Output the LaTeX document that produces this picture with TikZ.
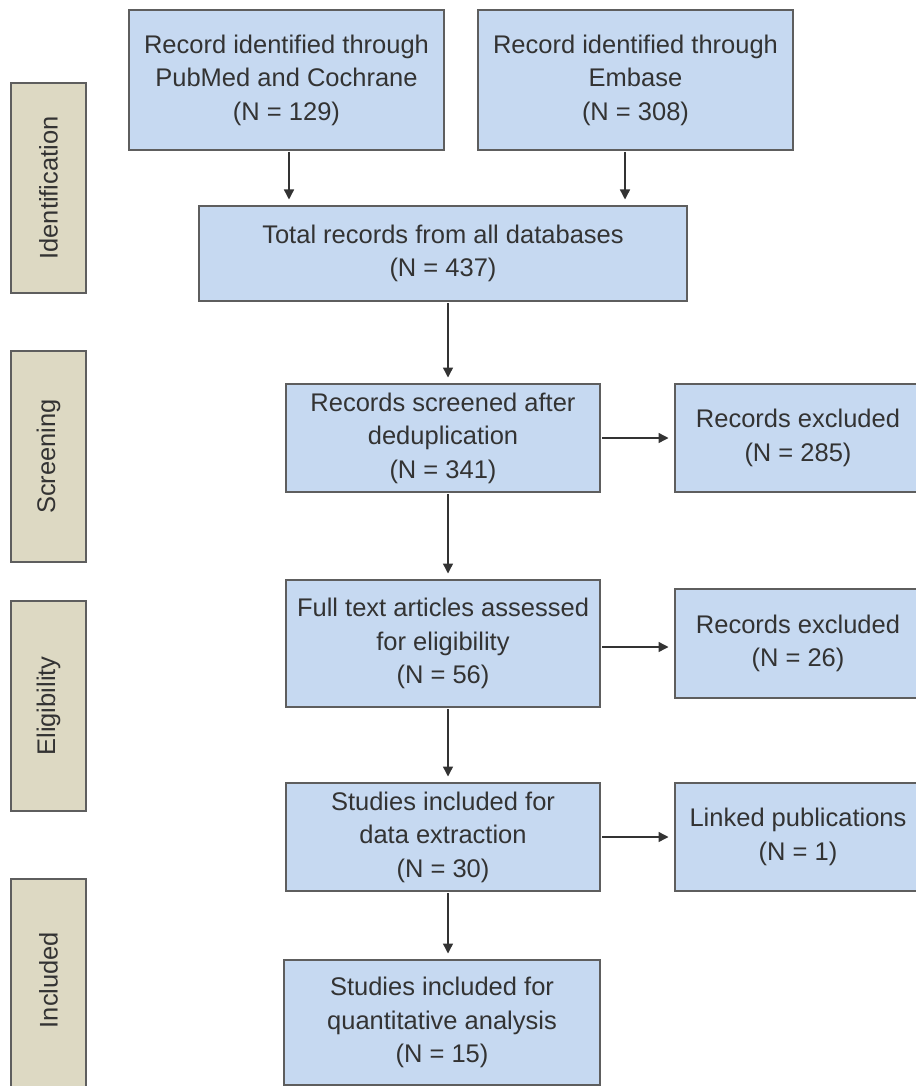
\documentclass[tikz,border=0pt]{standalone}
\usepackage{fontspec}
\setmainfont{Liberation Sans}
\usetikzlibrary{arrows.meta}
\definecolor{boxblue}{HTML}{C6D9F1}
\definecolor{boxline}{HTML}{5E5E5E}
\definecolor{phasetan}{HTML}{DDD9C3}
\definecolor{txt}{HTML}{333333}
\definecolor{arrowc}{HTML}{333333}
\tikzset{
  flowbox/.style={draw=boxline, fill=boxblue, line width=1.3pt, text=txt, align=center,
    inner sep=0pt, outer sep=0pt, anchor=north west, font=\fontsize{25.5}{33.5}\selectfont},
  phasebox/.style={draw=boxline, fill=phasetan, line width=1.3pt, inner sep=0pt, outer sep=0pt,
    anchor=north west},
  phaselabel/.style={rotate=90, text=txt, inner sep=0pt, font=\fontsize{25.5}{30}\selectfont},
  flowarrow/.style={draw=arrowc, line width=1.4pt, -{Triangle[length=10pt,width=10pt]},
    shorten >=6.5pt, shorten <=2pt}
}
\begin{document}
\begin{tikzpicture}[x=1pt,y=-1pt]
\fill[white] (0,0) rectangle (915,1086);
\useasboundingbox (0,0) rectangle (915,1086);

% phase boxes
\node[phasebox, minimum width=75pt, minimum height=210pt] (p1) at (11,83) {};
\node[phaselabel] (l1) at (48.5,188) {Identification};
\node[phasebox, minimum width=75pt, minimum height=211pt] (p2) at (11,351) {};
\node[phaselabel] (l2) at (48.5,456.5) {Screening};
\node[phasebox, minimum width=75pt, minimum height=210pt] (p3) at (11,601) {};
\node[phaselabel] (l3) at (48.5,706) {Eligibility};
\node[phasebox, minimum width=75pt, minimum height=220pt] (p4) at (11,879) {};
\node[phaselabel] (l4) at (48.5,980) {Included};

% flow boxes
\node[flowbox, minimum width=315pt, minimum height=140pt] (b1) at (129,10)
  {Record identified through\\PubMed and Cochrane\\(N = 129)};
\node[flowbox, minimum width=315pt, minimum height=140pt] (b2) at (478,10)
  {Record identified through\\Embase\\(N = 308)};
\node[flowbox, minimum width=488pt, minimum height=95pt] (b3) at (199,206)
  {Total records from all databases\\(N = 437)};
\node[flowbox, minimum width=314pt, minimum height=108pt] (b4) at (286,384)
  {Records screened after\\deduplication\\(N = 341)};
\node[flowbox, minimum width=246pt, minimum height=108pt] (b5) at (675,384)
  {Records excluded\\(N = 285)};
\node[flowbox, minimum width=314pt, minimum height=127pt] (b6) at (286,580)
  {Full text articles assessed\\for eligibility\\(N = 56)};
\node[flowbox, minimum width=246pt, minimum height=109pt] (b7) at (675,589)
  {Records excluded\\(N = 26)};
\node[flowbox, minimum width=314pt, minimum height=108pt] (b8) at (286,783)
  {Studies included for\\data extraction\\(N = 30)};
\node[flowbox, minimum width=246pt, minimum height=108pt] (b9) at (675,783)
  {Linked publications\\(N = 1)};
\node[flowbox, minimum width=316pt, minimum height=125pt] (b10) at (284,960)
  {Studies included for\\quantitative analysis\\(N = 15)};

% connectors
\coordinate (c1) at (289,0);
\coordinate (c2) at (625,0);
\coordinate (cx) at (448,0);
\coordinate (r2) at (0,647);
\draw[flowarrow] (b1.south -| c1) -- (b3.north -| c1);
\draw[flowarrow] (b2.south -| c2) -- (b3.north -| c2);
\draw[flowarrow] (b3.south -| cx) -- (b4.north -| cx);
\draw[flowarrow] (b4.south -| cx) -- (b6.north -| cx);
\draw[flowarrow] (b6.south -| cx) -- (b8.north -| cx);
\draw[flowarrow] (b8.south -| cx) -- (b10.north -| cx);
\draw[flowarrow] (b4.east) -- (b5.west);
\draw[flowarrow] (b6.east |- r2) -- (b7.west |- r2);
\draw[flowarrow] (b8.east) -- (b9.west);
\end{tikzpicture}
\end{document}
